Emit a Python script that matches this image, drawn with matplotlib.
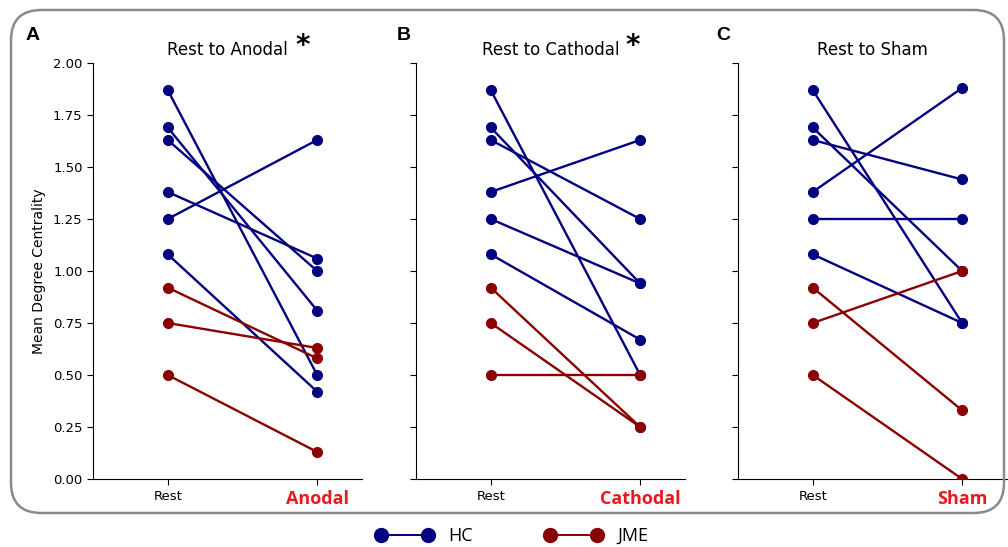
import matplotlib
matplotlib.use("Agg")
import matplotlib.pyplot as plt
from matplotlib.lines import Line2D
from matplotlib.patches import FancyBboxPatch

# values
hc_rest = [1.87, 1.69, 1.63, 1.38, 1.25, 1.08]
jme_rest = [0.92, 0.75, 0.50]

hc_anodal = [0.50, 0.81, 1.00, 1.06, 1.63, 0.42]
jme_anodal = [0.58, 0.63, 0.13]

hc_cathodal = [0.50, 0.94, 1.25, 1.63, 0.94, 0.67]
jme_cathodal = [0.25, 0.25, 0.50]

hc_sham = [0.75, 1.00, 1.44, 1.88, 1.25, 0.75]
jme_sham = [0.33, 1.00, 0.00]

panels = [
    ("A", "Rest to Anodal", "Anodal", hc_anodal, jme_anodal, True),
    ("B", "Rest to Cathodal", "Cathodal", hc_cathodal, jme_cathodal, True),
    ("C", "Rest to Sham", "Sham", hc_sham, jme_sham, False),
]
yticks = [0.00, 0.25, 0.50, 0.75, 1.00, 1.25, 1.50, 1.75, 2.00]

HC_COLOR = "#000080"
JME_COLOR = "#8b0000"
STIM_COLOR = "#e8191e"

W, H = 1008, 547
fig = plt.figure(figsize=(W / 100, H / 100), dpi=100)

# rounded frame around the panels
frame = FancyBboxPatch((11 / W, (H - 513) / H), (1004 - 11) / W, (513 - 10) / H,
                       boxstyle="round,pad=0,rounding_size=0.03",
                       transform=fig.transFigure, fill=False,
                       edgecolor="#8a8a8a", linewidth=1.8, mutation_aspect=W / H)
fig.patches.append(frame)

lefts = [93, 416, 738]
letter_x = [33, 404, 723]
star_x = [0.78, 0.807]
ax_w = 269 / W
ax_b = (H - 479) / H
ax_h = 416 / H

for i, (letter, title, stim, hc_post, jme_post, star) in enumerate(panels):
    ax = fig.add_axes([lefts[i] / W, ax_b, ax_w, ax_h])
    for a, b in zip(hc_rest, hc_post):
        ax.plot([0, 1], [a, b], color=HC_COLOR, lw=1.7, marker="o", ms=7, zorder=2)
    for a, b in zip(jme_rest, jme_post):
        ax.plot([0, 1], [a, b], color=JME_COLOR, lw=1.7, marker="o", ms=7, zorder=3)

    ax.set_xlim(-0.5, 1.3)
    ax.set_ylim(0, 2)
    ax.set_yticks(yticks)
    ax.set_xticks([0, 1])
    ax.set_xticklabels(["Rest", stim])
    lbls = ax.get_xticklabels()
    lbls[1].set_color(STIM_COLOR)
    lbls[1].set_fontweight("bold")
    lbls[1].set_fontsize(13)
    lbls[1].set_fontfamily("Open Sans")
    lbls[0].set_fontsize(9.5)
    ax.tick_params(axis="y", labelsize=9.5, length=4)
    ax.tick_params(axis="x", length=4, pad=4)
    if i == 0:
        ax.set_yticklabels([f"{v:.2f}" for v in yticks])
        ax.set_ylabel("Mean Degree Centrality", fontsize=10, labelpad=5)
    else:
        ax.set_yticklabels([])
    ax.spines["top"].set_visible(False)
    ax.spines["right"].set_visible(False)
    ax.set_title(title, fontsize=12, pad=6)
    if star:
        ax.text(star_x[i], 1.04, "*", transform=ax.transAxes, fontsize=20,
                fontweight="bold", ha="center", va="center")
    fig.text(letter_x[i] / W, 1 - 35 / H, letter, fontsize=14, fontweight="bold",
             family="Liberation Sans", ha="center", va="center")

handles = [
    Line2D([], [], color=HC_COLOR, lw=1.4, marker="o", ms=10),
    Line2D([], [], color=JME_COLOR, lw=1.4, marker="o", ms=10),
]
fig.legend(handles, ["HC", "JME"], loc="center", bbox_to_anchor=(512 / W, 1 - 536 / H),
           ncol=2, frameon=False, numpoints=2, handlelength=3.2, columnspacing=4,
           handletextpad=0.8, prop={"family": "Open Sans", "size": 13})

fig.savefig("out.png", dpi=100)
